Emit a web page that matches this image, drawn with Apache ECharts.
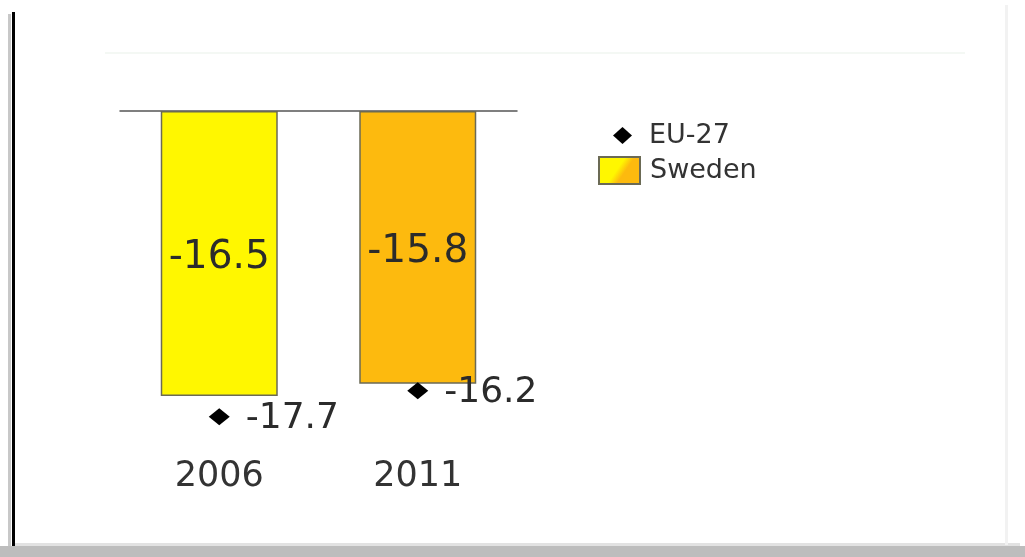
<!DOCTYPE html>
<html><head><meta charset="utf-8">
<script src="https://cdn.jsdelivr.net/npm/echarts@6/dist/echarts.min.js"></script>
<style>html,body{margin:0;padding:0;background:#fff}#c{width:1025px;height:557px}</style>
</head><body><div id="c"></div>
<script>
const categories = ['2006', '2011'];
const swedenValues = [-16.5, -15.8];
const eu27Values = [-17.7, -16.2];
const barColors = ['#FFF700', '#FDBA0E'];
const seriesNames = ['EU-27', 'Sweden'];

const chart = echarts.init(document.getElementById('c'));
const FONT = 'DejaVu Sans';
chart.setOption({
  animation: false,
  backgroundColor: '#fff',
  grid: { left: 120, width: 397, top: 111, height: 345.4 },
  xAxis: [
    { type: 'category', data: categories, position: 'bottom',
      axisLine: { show: false }, axisTick: { show: false },
      axisLabel: { fontFamily: FONT, fontSize: 35, color: '#333', margin: 3 } },
    { type: 'category', data: categories, position: 'top',
      axisLine: { show: true, lineStyle: { color: '#555', width: 1.5 } },
      axisTick: { show: false }, axisLabel: { show: false } }
  ],
  yAxis: { type: 'value', min: -20, max: 0, show: false },
  legend: [
    { data: [seriesNames[0]], orient: 'vertical', left: 608, top: 117, icon: 'diamond',
      itemWidth: 19, itemHeight: 17, itemGap: 0,
      textStyle: { fontFamily: FONT, fontSize: 27, color: '#333', padding: [0, 0, 0, 12] } },
    { data: [seriesNames[1]], orient: 'vertical', left: 593, top: 151, icon: 'rect',
      itemWidth: 41, itemHeight: 27,
      textStyle: { fontFamily: FONT, fontSize: 27, color: '#333', padding: [0, 0, 0, 5] } }
  ],
  series: [
    { name: seriesNames[1], type: 'bar', xAxisIndex: 0, barWidth: 117,
      itemStyle: {
        color: new echarts.graphic.LinearGradient(0, 0, 1, 1, [
          { offset: 0, color: barColors[0] }, { offset: 0.45, color: barColors[0] },
          { offset: 0.6, color: barColors[1] }, { offset: 1, color: barColors[1] }]),
        borderColor: '#6b6a55', borderWidth: 1.5 },
      label: { show: true, position: 'inside', offset: [0, 4], fontFamily: FONT, fontSize: 39, color: '#2b2b2b' },
      data: swedenValues.map((v, i) => ({ value: v, itemStyle: { color: barColors[i] } })),
      z: 2 },
    { name: seriesNames[0], type: 'scatter', xAxisIndex: 0, symbol: 'diamond', symbolSize: [21, 17],
      itemStyle: { color: '#000', opacity: 1 },
      label: { show: true, position: 'right', distance: 16, offset: [0, 2], fontFamily: FONT, fontSize: 36, color: '#2b2b2b' },
      data: eu27Values, z: 3 }
  ],
  graphic: [
    { type: 'rect', shape: { x: 8, y: 14, width: 3, height: 532 }, style: { fill: '#c8c8c8' }, silent: true },
    { type: 'rect', shape: { x: 12, y: 12, width: 3, height: 535 }, style: { fill: '#000' }, silent: true },
    { type: 'rect', shape: { x: 0, y: 546, width: 1025, height: 11 }, style: { fill: '#bdbdbd' }, silent: true },
    { type: 'rect', shape: { x: 15, y: 543, width: 1005, height: 3 }, style: { fill: '#e2e2e2' }, silent: true },
    { type: 'rect', shape: { x: 1005, y: 5, width: 3, height: 540 }, style: { fill: '#f2f2f2' }, silent: true },
    { type: 'rect', shape: { x: 105, y: 52, width: 860, height: 2 }, style: { fill: '#f4f8f4' }, silent: true }
  ]
});
</script></body></html>
